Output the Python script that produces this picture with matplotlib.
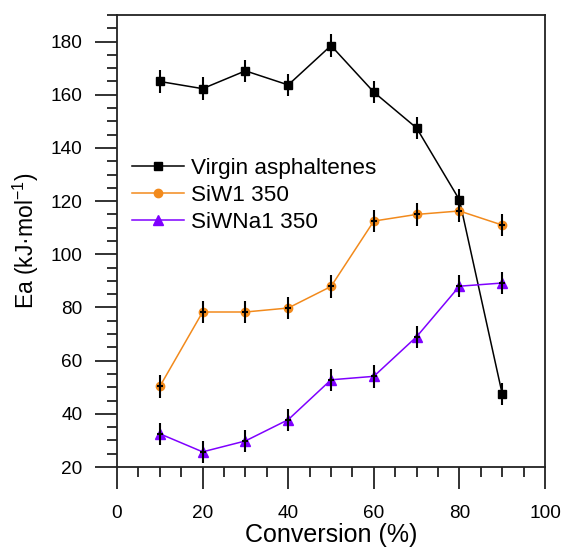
import matplotlib
matplotlib.use("Agg")
import matplotlib.pyplot as plt
from matplotlib.ticker import MultipleLocator

plt.rcParams['font.family'] = ['Liberation Sans', 'DejaVu Sans']

conversion = [10, 20, 30, 40, 50, 60, 70, 80, 90]
virgin = [165.0, 162.3, 169.0, 163.7, 178.5, 161.0, 147.5, 120.5, 47.5]
siw1 = [50.3, 78.3, 78.3, 79.8, 87.9, 112.5, 115.0, 116.3, 111.0]
siwna1 = [32.5, 25.7, 29.8, 37.8, 52.8, 54.1, 69.0, 88.0, 89.2]
err = [4.2] * len(conversion)

series = [
    ("Virgin asphaltenes", virgin, "black", "s", 5.5),
    ("SiW1 350", siw1, "#F28A1C", "o", 6.0),
    ("SiWNa1 350", siwna1, "#7F00FF", "^", 6.5),
]

fig = plt.figure(figsize=(5.61, 5.5), dpi=100)
ax = fig.add_axes([0.2086, 0.1509, 0.7629, 0.8218])

for label, vals, color, marker, ms in series:
    ax.plot(conversion, vals, color=color, marker=marker, markersize=ms,
            linewidth=1.1, label=label, zorder=3)
    ax.errorbar(conversion, vals, yerr=err, xerr=0.7, fmt="none",
                ecolor="black", elinewidth=1.5, capsize=0, zorder=4)

ax.set_xlim(0, 100)
ax.set_ylim(20, 190)
ax.xaxis.set_major_locator(MultipleLocator(20))
ax.xaxis.set_minor_locator(MultipleLocator(5))
ax.yaxis.set_minor_locator(MultipleLocator(5))
ax.set_yticks([20, 40, 60, 80, 100, 120, 140, 160, 180])

ax.tick_params(axis='both', which='major', direction='out', length=16,
               width=1.3, labelsize=13.7, color='#222222')
ax.tick_params(axis='both', which='minor', direction='out', length=7,
               width=1.3, color='#222222')
ax.tick_params(axis='y', which='major', pad=9)
ax.tick_params(axis='x', which='major', pad=11)

for sp in ax.spines.values():
    sp.set_linewidth(1.3)
    sp.set_color('#222222')

ax.set_xlabel("Conversion (%)", fontsize=18, labelpad=1)
ax.set_ylabel("Ea (kJ·mol$^{\\mathregular{-1}}$)", fontsize=16.5, labelpad=7)

ax.legend(loc='upper left', bbox_to_anchor=(0.035, 0.683), frameon=False,
          fontsize=16.2, handlelength=2.3, handletextpad=0.3,
          labelspacing=0.25, borderaxespad=0, borderpad=0)

fig.savefig("out.png", dpi=100)
